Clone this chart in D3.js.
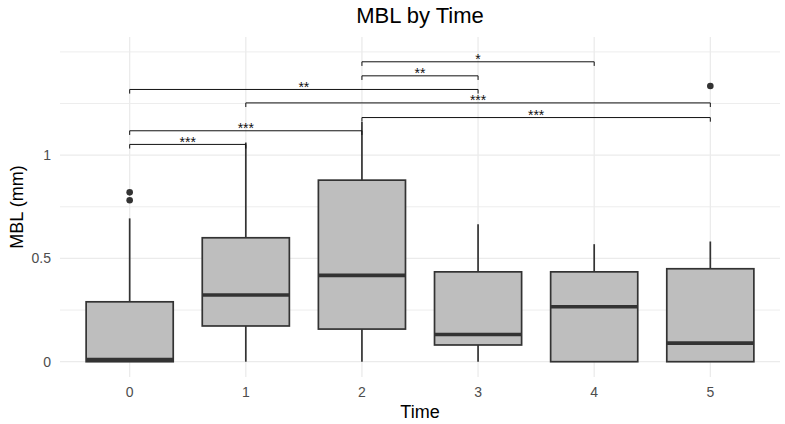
<!DOCTYPE html>
<html>
<head>
<meta charset="utf-8">
<script src="https://cdn.jsdelivr.net/npm/d3@7"></script>
<style>
  body { margin: 0; background: #fff; }
  svg { font-family: "Liberation Sans", Arial, Helvetica, sans-serif; }
</style>
</head>
<body>
<svg width="785" height="424"></svg>
<script>
// box stats per time point
const times = ["0", "1", "2", "3", "4", "5"];
const q1 = [0, 0.173, 0.158, 0.081, 0, 0];
const medians = [0.01, 0.323, 0.418, 0.132, 0.266, 0.09];
const q3 = [0.29, 0.6, 0.879, 0.435, 0.435, 0.45];
const whiskerLow = [0, 0, 0, 0, 0, 0];
const whiskerHigh = [0.694, 1.061, 1.161, 0.666, 0.569, 0.582];
const outliers = [[0.82, 0.782], [], [], [], [], [1.335]];

// pairwise comparisons
const compFrom = ["0", "0", "2", "1", "0", "2", "2"];
const compTo = ["1", "2", "5", "5", "3", "3", "4"];
const compLevel = [1.052, 1.118, 1.182, 1.253, 1.318, 1.384, 1.452];
const compLabel = ["***", "***", "***", "***", "**", "**", "*"];

const yTicks = [0, 0.5, 1];
const yMinor = [0.25, 0.75, 1.25, 1.5];

const svg = d3.select("svg");
const panel = { left: 60, right: 780, top: 37, bottom: 377 };

// ggplot style discrete axis: 0.6 expansion each side
const x = d3.scalePoint()
  .domain(times)
  .range([panel.left, panel.right])
  .padding(0.6);
const boxW = x.step() * 0.75;

const y = d3.scaleLinear()
  .domain([-0.074, 1.572])
  .range([panel.bottom, panel.top]);

const boxes = times.map((t, i) => ({
  t, q1: q1[i], med: medians[i], q3: q3[i],
  lo: whiskerLow[i], hi: whiskerHigh[i], out: outliers[i]
}));

// grid
const grid = svg.append("g");
grid.selectAll("line.minor")
  .data(yMinor)
  .enter().append("line")
  .attr("x1", panel.left).attr("x2", panel.right)
  .attr("y1", d => y(d)).attr("y2", d => y(d))
  .attr("stroke", "#ebebeb").attr("stroke-width", 0.9);
grid.selectAll("line.major")
  .data(yTicks)
  .enter().append("line")
  .attr("x1", panel.left).attr("x2", panel.right)
  .attr("y1", d => y(d)).attr("y2", d => y(d))
  .attr("stroke", "#ebebeb").attr("stroke-width", 1.3);
grid.selectAll("line.vert")
  .data(times)
  .enter().append("line")
  .attr("x1", d => x(d)).attr("x2", d => x(d))
  .attr("y1", panel.top).attr("y2", panel.bottom)
  .attr("stroke", "#ebebeb").attr("stroke-width", 1.3);

// axis labels
svg.append("g").selectAll("text")
  .data(yTicks)
  .enter().append("text")
  .attr("x", 51)
  .attr("y", d => y(d))
  .attr("dy", "0.36em")
  .attr("text-anchor", "end")
  .attr("font-size", 14)
  .attr("fill", "#4d4d4d")
  .text(d => d3.format("~g")(d));

svg.append("g").selectAll("text")
  .data(times)
  .enter().append("text")
  .attr("x", d => x(d))
  .attr("y", 397)
  .attr("text-anchor", "middle")
  .attr("font-size", 14)
  .attr("fill", "#4d4d4d")
  .text(d => d);

// boxes
const g = svg.append("g")
  .selectAll("g")
  .data(boxes)
  .enter().append("g");

g.append("line")
  .attr("x1", d => x(d.t)).attr("x2", d => x(d.t))
  .attr("y1", d => y(d.q3)).attr("y2", d => y(d.hi))
  .attr("stroke", "#333").attr("stroke-width", 1.7);
g.append("line")
  .attr("x1", d => x(d.t)).attr("x2", d => x(d.t))
  .attr("y1", d => y(d.q1)).attr("y2", d => y(d.lo))
  .attr("stroke", "#333").attr("stroke-width", 1.7);

g.append("rect")
  .attr("x", d => x(d.t) - boxW / 2)
  .attr("width", boxW)
  .attr("y", d => y(d.q3))
  .attr("height", d => y(d.q1) - y(d.q3))
  .attr("fill", "#bebebe")
  .attr("stroke", "#333")
  .attr("stroke-width", 1.7);

g.append("line")
  .attr("x1", d => x(d.t) - boxW / 2).attr("x2", d => x(d.t) + boxW / 2)
  .attr("y1", d => y(d.med)).attr("y2", d => y(d.med))
  .attr("stroke", "#333").attr("stroke-width", 3.6);

g.selectAll("circle")
  .data(d => d.out.map(v => ({ t: d.t, v })))
  .enter().append("circle")
  .attr("cx", d => x(d.t))
  .attr("cy", d => y(d.v))
  .attr("r", 3.3)
  .attr("fill", "#333");

// significance brackets
const tip = 0.02;
const comps = compFrom.map((f, i) => ({
  from: f, to: compTo[i], level: compLevel[i], label: compLabel[i]
}));
const br = svg.append("g").selectAll("g")
  .data(comps)
  .enter().append("g");

br.append("path")
  .attr("d", d => {
    const x1 = x(d.from), x2 = x(d.to);
    return `M${x1},${y(d.level - tip)}V${y(d.level)}H${x2}V${y(d.level - tip)}`;
  })
  .attr("fill", "none")
  .attr("stroke", "#111")
  .attr("stroke-width", 1);

br.append("text")
  .attr("x", d => (x(d.from) + x(d.to)) / 2)
  .attr("y", d => y(d.level) + 2.5)
  .attr("text-anchor", "middle")
  .attr("font-size", 14)
  .attr("fill", "#111")
  .text(d => d.label);

// titles
svg.append("text")
  .attr("x", (panel.left + panel.right) / 2)
  .attr("y", 23)
  .attr("text-anchor", "middle")
  .attr("font-size", 22)
  .attr("fill", "#000")
  .text("MBL by Time");

svg.append("text")
  .attr("x", (panel.left + panel.right) / 2)
  .attr("y", 418)
  .attr("text-anchor", "middle")
  .attr("font-size", 18)
  .attr("fill", "#000")
  .text("Time");

svg.append("text")
  .attr("transform", `translate(23,${(panel.top + panel.bottom) / 2}) rotate(-90)`)
  .attr("text-anchor", "middle")
  .attr("font-size", 18)
  .attr("fill", "#000")
  .text("MBL (mm)");
</script>
</body>
</html>
